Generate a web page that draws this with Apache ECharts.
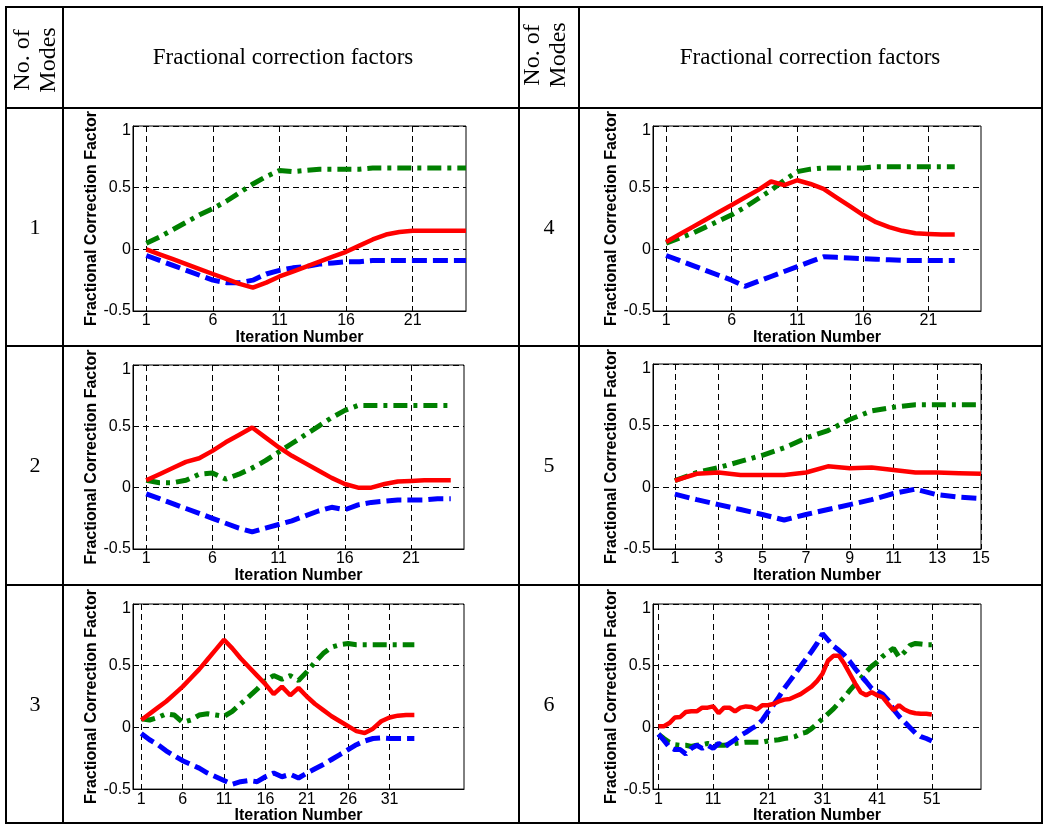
<!DOCTYPE html>
<html>
<head>
<meta charset="utf-8">
<title>Fractional correction factors</title>
<script src="https://cdn.jsdelivr.net/npm/echarts@6/dist/echarts.min.js"></script>
<style>
html, body { margin: 0; padding: 0; background: #fff; }
#main { width: 1046px; height: 825px; }
</style>
</head>
<body>
<div id="main"></div>
<script>
// y axis is the same for every panel
var yMin = -0.5, yMax = 1, yStep = 0.5;

// 1 mode
var mode1Ticks = [1, 6, 11, 16, 21];
var mode1Red = [0.0, -0.04, -0.08, -0.12, -0.16, -0.20, -0.24, -0.28, -0.31, -0.27, -0.22, -0.18, -0.14, -0.10, -0.06, -0.02, 0.03, 0.08, 0.12, 0.14, 0.15, 0.15, 0.15, 0.15, 0.15];
var mode1Blue = [-0.05, -0.09, -0.13, -0.17, -0.21, -0.25, -0.27, -0.27, -0.25, -0.20, -0.17, -0.15, -0.14, -0.12, -0.11, -0.10, -0.10, -0.09, -0.09, -0.09, -0.09, -0.09, -0.09, -0.09, -0.09];
var mode1Green = [0.05, 0.10, 0.16, 0.22, 0.28, 0.33, 0.39, 0.46, 0.53, 0.59, 0.64, 0.63, 0.64, 0.65, 0.65, 0.65, 0.65, 0.66, 0.66, 0.66, 0.66, 0.66, 0.66, 0.66, 0.66];

// 4 modes
var mode4Ticks = [1, 6, 11, 16, 21];
var mode4Red = [0.06, 0.12, 0.18, 0.24, 0.30, 0.36, 0.42, 0.48, 0.55, 0.52, 0.56, 0.53, 0.49, 0.42, 0.35, 0.28, 0.22, 0.18, 0.15, 0.13, 0.125, 0.12, 0.12];
var mode4Blue = [-0.05, -0.09, -0.13, -0.17, -0.21, -0.25, -0.30, -0.26, -0.22, -0.18, -0.14, -0.10, -0.06, -0.065, -0.07, -0.075, -0.08, -0.085, -0.09, -0.09, -0.09, -0.09, -0.09];
var mode4Green = [0.05, 0.09, 0.13, 0.18, 0.23, 0.28, 0.34, 0.41, 0.48, 0.56, 0.63, 0.65, 0.66, 0.66, 0.66, 0.66, 0.67, 0.67, 0.67, 0.67, 0.67, 0.67, 0.67];

// 2 modes
var mode2Ticks = [1, 6, 11, 16, 21];
var mode2Red = [0.06, 0.11, 0.16, 0.21, 0.24, 0.30, 0.37, 0.43, 0.49, 0.41, 0.33, 0.26, 0.20, 0.14, 0.08, 0.03, 0.0, 0.0, 0.03, 0.05, 0.055, 0.06, 0.06, 0.06];
var mode2Blue = [-0.05, -0.09, -0.13, -0.17, -0.21, -0.25, -0.29, -0.33, -0.36, -0.33, -0.30, -0.27, -0.23, -0.19, -0.16, -0.18, -0.14, -0.12, -0.11, -0.10, -0.10, -0.10, -0.09, -0.09];
var mode2Green = [0.06, 0.04, 0.04, 0.06, 0.11, 0.12, 0.07, 0.11, 0.16, 0.22, 0.29, 0.36, 0.43, 0.50, 0.57, 0.63, 0.67, 0.67, 0.67, 0.67, 0.67, 0.67, 0.67, 0.67];

// 5 modes
var mode5Ticks = [1, 3, 5, 7, 9, 11, 13, 15];
var mode5Red = [0.055, 0.11, 0.12, 0.10, 0.10, 0.10, 0.12, 0.17, 0.155, 0.16, 0.14, 0.12, 0.12, 0.115, 0.11];
var mode5Blue = [-0.055, -0.10, -0.14, -0.18, -0.22, -0.265, -0.22, -0.18, -0.14, -0.10, -0.05, -0.015, -0.06, -0.08, -0.09];
var mode5Green = [0.055, 0.12, 0.16, 0.21, 0.26, 0.32, 0.40, 0.46, 0.55, 0.62, 0.65, 0.67, 0.67, 0.67, 0.67];

// 3 modes
var mode3Ticks = [1, 6, 11, 16, 21, 26, 31];
var mode3Red = [0.06, 0.11, 0.16, 0.21, 0.27, 0.33, 0.40, 0.47, 0.55, 0.63, 0.71, 0.64, 0.56, 0.49, 0.42, 0.35, 0.27, 0.33, 0.26, 0.32, 0.25, 0.19, 0.14, 0.09, 0.05, 0.01, -0.03, -0.045, -0.01, 0.05, 0.08, 0.095, 0.10, 0.10];
var mode3Blue = [-0.05, -0.10, -0.14, -0.19, -0.23, -0.27, -0.30, -0.33, -0.37, -0.40, -0.43, -0.46, -0.44, -0.43, -0.44, -0.40, -0.37, -0.40, -0.38, -0.41, -0.37, -0.335, -0.30, -0.26, -0.22, -0.18, -0.14, -0.11, -0.09, -0.085, -0.09, -0.09, -0.09, -0.09];
var mode3Green = [0.07, 0.06, 0.08, 0.11, 0.10, 0.04, 0.06, 0.10, 0.11, 0.10, 0.09, 0.13, 0.19, 0.25, 0.31, 0.38, 0.42, 0.39, 0.42, 0.38, 0.45, 0.53, 0.60, 0.65, 0.67, 0.68, 0.67, 0.67, 0.67, 0.67, 0.67, 0.67, 0.67, 0.67];

// 6 modes
var mode6Ticks = [1, 11, 21, 31, 41, 51];
var mode6Red = [0.01, 0.01, 0.035, 0.08, 0.085, 0.125, 0.13, 0.13, 0.16, 0.16,
	0.17, 0.115, 0.16, 0.16, 0.13, 0.16, 0.17, 0.165, 0.145, 0.18,
	0.18, 0.19, 0.21, 0.225, 0.23, 0.25, 0.27, 0.30, 0.33, 0.375,
	0.435, 0.54, 0.58, 0.58, 0.515, 0.435, 0.355, 0.285, 0.26, 0.285,
	0.26, 0.245, 0.19, 0.14, 0.18, 0.145, 0.125, 0.115, 0.11, 0.11, 0.105];
var mode6Blue = [-0.055, -0.105, -0.16, -0.18, -0.18, -0.215, -0.17, -0.145, -0.17, -0.145,
	-0.17, -0.13, -0.16, -0.13, -0.10, -0.065, -0.04, -0.01, 0.015, 0.06,
	0.125, 0.18, 0.245, 0.315, 0.375, 0.435, 0.495, 0.555, 0.615, 0.68,
	0.76, 0.71, 0.66, 0.625, 0.585, 0.535, 0.475, 0.42, 0.37, 0.315,
	0.295, 0.27, 0.22, 0.145, 0.09, 0.045, 0.0, -0.045, -0.075, -0.09, -0.11];
var mode6Green = [-0.055, -0.09, -0.12, -0.14, -0.145, -0.145, -0.155, -0.145, -0.14, -0.13,
	-0.14, -0.145, -0.145, -0.14, -0.13, -0.125, -0.12, -0.12, -0.12, -0.12,
	-0.11, -0.105, -0.10, -0.09, -0.085, -0.075, -0.05, -0.04, -0.01, 0.03,
	0.07, 0.11, 0.15, 0.20, 0.245, 0.30, 0.35, 0.395, 0.45, 0.495,
	0.53, 0.575, 0.61, 0.64, 0.57, 0.61, 0.665, 0.68, 0.675, 0.67, 0.67];

// panel placement: rows of the table are modes 1|4, 2|5, 3|6
var panels = [
	{ box: [133, 126, 333, 185], xMax: 25, ticks: mode1Ticks, red: mode1Red, blue: mode1Blue, green: mode1Green },
	{ box: [653, 126, 328, 185], xMax: 25, ticks: mode4Ticks, red: mode4Red, blue: mode4Blue, green: mode4Green },
	{ box: [133, 365, 331, 184], xMax: 25, ticks: mode2Ticks, red: mode2Red, blue: mode2Blue, green: mode2Green },
	{ box: [653, 364, 328, 185], xMax: 15, ticks: mode5Ticks, red: mode5Red, blue: mode5Blue, green: mode5Green },
	{ box: [133, 604, 331, 186], xMax: 40, ticks: mode3Ticks, red: mode3Red, blue: mode3Blue, green: mode3Green },
	{ box: [653, 604, 328, 186], xMax: 60, ticks: mode6Ticks, red: mode6Red, blue: mode6Blue, green: mode6Green }
];

function pairs(arr) {
	// iteration numbers start at 1
	return arr.map(function(v, i) { return [i + 1, v]; });
}

var fontSans = 'Liberation Sans, Arial, sans-serif';
var fontSerif = 'Liberation Serif, Times New Roman, serif';

var grids = [], xAxes = [], yAxes = [], series = [];
panels.forEach(function(p, i) {
	grids.push({
		left: p.box[0], top: p.box[1], width: p.box[2], height: p.box[3],
		show: true, borderColor: '#000', borderWidth: 1, backgroundColor: '#fff'
	});
	xAxes.push({
		gridIndex: i,
		type: 'value',
		min: 0,
		max: p.xMax,
		name: 'Iteration Number',
		nameLocation: 'middle',
		nameGap: 15,
		nameTextStyle: { fontFamily: fontSans, fontWeight: 'bold', fontSize: 16, color: '#000' },
		axisLine: { show: true, onZero: false, lineStyle: { color: '#000', width: 1 } },
		axisTick: { show: true, inside: true, length: 4, customValues: p.ticks, lineStyle: { color: '#000' } },
		axisLabel: { customValues: p.ticks, fontFamily: fontSans, fontSize: 16, color: '#000', margin: 2 },
		splitLine: { show: true, lineStyle: { color: '#000', width: 1, type: [6, 4] } }
	});
	yAxes.push({
		gridIndex: i,
		type: 'value',
		min: yMin,
		max: yMax,
		interval: yStep,
		name: 'Fractional Correction Factor',
		nameLocation: 'middle',
		nameGap: 32,
		nameTextStyle: { fontFamily: fontSans, fontWeight: 'bold', fontSize: 16, color: '#000' },
		axisLine: { show: true, lineStyle: { color: '#000', width: 1 } },
		axisTick: { show: true, inside: true, length: 4, lineStyle: { color: '#000' } },
		axisLabel: {
			fontFamily: fontSans, fontSize: 16, color: '#000', margin: 2,
			// the top label sits a little lower in the original
			formatter: function(v) { return v === yMax ? '{top|' + v + '}' : String(v); },
			rich: { top: { fontFamily: fontSans, fontSize: 16, color: '#000', padding: [10, 0, 0, 0] } }
		},
		splitLine: { show: true, lineStyle: { color: '#000', width: 1, type: [6, 4] } }
	});
	series.push({
		type: 'line', xAxisIndex: i, yAxisIndex: i, data: pairs(p.green),
		symbol: 'none', animation: false,
		lineStyle: { color: '#008000', width: 5, type: [14, 6, 4, 6], cap: 'butt' }
	});
	series.push({
		type: 'line', xAxisIndex: i, yAxisIndex: i, data: pairs(p.blue),
		symbol: 'none', animation: false,
		lineStyle: { color: '#0000ff', width: 5, type: [15, 6], cap: 'butt' }
	});
	series.push({
		type: 'line', xAxisIndex: i, yAxisIndex: i, data: pairs(p.red),
		symbol: 'none', animation: false,
		lineStyle: { color: '#ff0000', width: 4.5, type: 'solid' }
	});
});

// table around the panels
var tableX = [6, 63, 519, 579, 1042];
var tableY = [7, 108, 346, 585, 823];
var graphics = [];
tableX.forEach(function(x) {
	graphics.push({ type: 'line', shape: { x1: x, y1: tableY[0] - 1, x2: x, y2: tableY[4] + 1 }, style: { stroke: '#000', lineWidth: 2 } });
});
tableY.forEach(function(y) {
	graphics.push({ type: 'line', shape: { x1: tableX[0] - 1, y1: y, x2: tableX[4] + 1, y2: y }, style: { stroke: '#000', lineWidth: 2 } });
});

function cellText(txt, x, y, rot, size) {
	graphics.push({
		type: 'text', x: x, y: y, rotation: rot,
		style: { text: txt, font: size + 'px ' + fontSerif, fill: '#000', align: 'center', verticalAlign: 'middle', lineHeight: 26 }
	});
}
cellText('No. of\nModes', 36, 60, Math.PI / 2, 24);
cellText('No. of\nModes', 546, 55, Math.PI / 2, 24);
cellText('Fractional correction factors', 283, 58, 0, 23);
cellText('Fractional correction factors', 810, 58, 0, 23);

var rowModes = [['1', '4'], ['2', '5'], ['3', '6']];
var rowMid = [228, 466, 705];
rowModes.forEach(function(r, i) {
	cellText(r[0], 35, rowMid[i], 0, 22);
	cellText(r[1], 549, rowMid[i], 0, 22);
});

var myChart = echarts.init(document.getElementById('main'));
var option = {
	backgroundColor: '#fff',
	animation: false,
	grid: grids,
	xAxis: xAxes,
	yAxis: yAxes,
	series: series,
	graphic: graphics
};
myChart.setOption(option);
</script>
</body>
</html>
